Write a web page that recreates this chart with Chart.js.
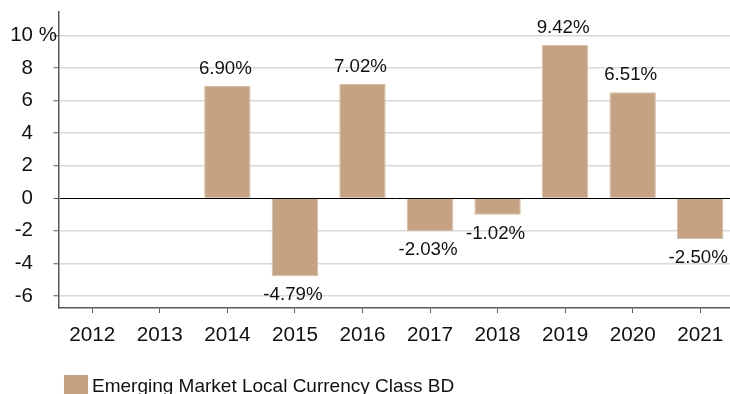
<!DOCTYPE html>
<html>
<head>
<meta charset="utf-8">
<script src="https://cdn.jsdelivr.net/npm/chart.js@4.4.1/dist/chart.umd.min.js"></script>
<style>
    html, body { margin: 0; padding: 0; background: #fff; overflow: hidden; width: 730px; height: 394px; }
    #wrap { position: relative; width: 734px; height: 394px; }
</style>
</head>
<body>
<div id="wrap"><canvas id="returnsChart"></canvas></div>
<script>
// Calendar year returns, in percent
const years = ['2012', '2013', '2014', '2015', '2016', '2017', '2018', '2019', '2020', '2021'];
const returns = [null, null, 6.90, -4.79, 7.02, -2.03, -1.02, 9.42, 6.51, -2.50];
const yTicks = [-6, -4, -2, 0, 2, 4, 6, 8, 10];
const seriesName = 'Emerging Market Local Currency Class BD';

const barColor = '#c4a282';
const axisColor = '#595959';
const font = 'Arial, "Liberation Sans", sans-serif';

// Value labels above positive bars and below negative ones
const valueLabels = {
    id: 'valueLabels',
    afterDatasetsDraw(chart) {
        const ctx = chart.ctx;
        const meta = chart.getDatasetMeta(0);
        ctx.save();
        ctx.font = '18.7px ' + font;
        ctx.fillStyle = '#111';
        ctx.textAlign = 'center';
        ctx.textBaseline = 'alphabetic';
        meta.data.forEach((bar, i) => {
            const v = returns[i];
            if (v === null) return;
            const text = v.toFixed(2) + '%';
            if (v >= 0) {
                ctx.fillText(text, bar.x - 2, bar.y - 12);
            } else {
                ctx.fillText(text, bar.x - 2, bar.y + 24);
            }
        });
        ctx.restore();
    }
};

// Unit sign trailing the top tick label, plus the legend row
const extras = {
    id: 'extras',
    afterDraw(chart) {
        const ctx = chart.ctx;
        const y = chart.scales.y;
        const top = yTicks[yTicks.length - 1];
        ctx.save();
        ctx.font = '20.5px ' + font;
        ctx.fillStyle = '#111';
        ctx.textAlign = 'left';
        ctx.textBaseline = 'middle';
        ctx.fillText(' %', 33, y.getPixelForValue(top));

        // legend
        ctx.fillStyle = barColor;
        ctx.fillRect(64, 375, 24, 20);
        ctx.font = '19px ' + font;
        ctx.fillStyle = '#111';
        ctx.textBaseline = 'alphabetic';
        ctx.fillText(chart.data.datasets[0].label, 92, 392);
        ctx.restore();
    }
};

const ctx = document.getElementById('returnsChart').getContext('2d');

new Chart(ctx, {
    type: 'bar',
    data: {
        labels: years,
        datasets: [{
            label: seriesName,
            data: returns,
            backgroundColor: barColor,
            borderColor: '#d6bfa7',
            borderWidth: 1,
            categoryPercentage: 1,
            barPercentage: 0.687
        }]
    },
    options: {
        responsive: true,
        maintainAspectRatio: false,
        animation: false,
        layout: { padding: { top: 12, left: 0, right: 0, bottom: 0 } },
        plugins: {
            legend: { display: false },
            tooltip: { enabled: false }
        },
        scales: {
            x: {
                offset: true,
                afterFit: (scale) => {
                    scale.height = 86;
                    scale.paddingLeft = 0;
                    scale.paddingRight = 0;
                },
                grid: {
                    offset: false,
                    drawOnChartArea: false,
                    drawTicks: true,
                    tickLength: 5,
                    tickColor: axisColor,
                    tickWidth: 1
                },
                border: { display: true, color: axisColor, width: 1.5 },
                ticks: {
                    color: '#111',
                    font: { size: 20.7, family: font },
                    padding: 10,
                    maxRotation: 0
                }
            },
            y: {
                min: -6.74,
                max: 11.44,
                afterFit: (scale) => {
                    scale.width = 58.5;
                    scale.paddingTop = 0;
                    scale.paddingBottom = 0;
                },
                afterBuildTicks: (scale) => {
                    scale.ticks = yTicks.map(v => ({ value: v }));
                },
                grid: {
                    color: (c) => c.tick && c.tick.value === 0 ? '#000' : '#d9d9d9',
                    lineWidth: (c) => c.tick && c.tick.value === 0 ? 1 : 1.5,
                    tickColor: axisColor,
                    tickLength: 5,
                    tickWidth: 1
                },
                border: { display: true, color: axisColor, width: 1.5 },
                ticks: {
                    color: '#111',
                    font: { size: 20.5, family: font },
                    padding: 20.5,
                    callback: (v) => String(v)
                }
            }
        }
    },
    plugins: [valueLabels, extras]
});
</script>
</body>
</html>
